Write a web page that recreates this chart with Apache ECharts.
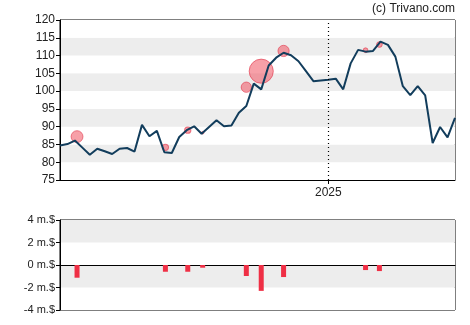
<!DOCTYPE html>
<html>
<head>
<meta charset="utf-8">
<script src="https://cdn.jsdelivr.net/npm/echarts@6/dist/echarts.min.js"></script>
<style>
  html, body { margin: 0; padding: 0; background: #fff; }
  #chart { width: 470px; height: 325px; }
</style>
</head>
<body>
<div id="chart"></div>
<script>
// Weekly closing prices
const weekDates = [
  '2024-04-24','2024-05-01','2024-05-08','2024-05-15','2024-05-22','2024-05-29',
  '2024-06-05','2024-06-12','2024-06-19','2024-06-26','2024-07-03','2024-07-10',
  '2024-07-17','2024-07-24','2024-07-31','2024-08-07','2024-08-14','2024-08-21',
  '2024-08-28','2024-09-04','2024-09-11','2024-09-18','2024-09-25','2024-10-02',
  '2024-10-09','2024-10-16','2024-10-23','2024-10-30','2024-11-06','2024-11-13',
  '2024-11-20','2024-11-27','2024-12-04','2024-12-11','2024-12-18','2024-12-25',
  '2025-01-01','2025-01-08','2025-01-15','2025-01-22','2025-01-29','2025-02-05',
  '2025-02-12','2025-02-19','2025-02-26','2025-03-05','2025-03-12','2025-03-19',
  '2025-03-26','2025-04-02','2025-04-09','2025-04-16','2025-04-23','2025-04-30'
];
const closePrices = [
  84.7, 85.1, 86.1, 84.1, 82.1, 83.8, 83.1, 82.3, 83.8, 84.0, 83.0, 90.5,
  87.3, 88.8, 82.8, 82.6, 87.1, 89.0, 90.1, 88.0, 89.9, 91.8, 90.1, 90.3,
  93.9, 95.8, 102.1, 100.5, 107.2, 109.4, 110.8, 110.1, 108.4, 105.6, 102.8, 103.0,
  103.2, 103.5, 100.5, 107.8, 111.6, 111.1, 111.3, 113.9, 113.0, 109.7, 101.4, 98.9,
  101.4, 98.8, 85.4, 89.9, 87.0, 92.5
];

// Insider transactions: date, price, amount (millions $)
const tradeDates = [
  '2024-05-10','2024-08-01','2024-08-22','2024-09-05','2024-10-16',
  '2024-10-30','2024-11-20','2025-02-05','2025-02-18'
];
const tradePrices = [87.2, 84.2, 89.0, 88.3, 101.1, 105.6, 111.3, 111.5, 113.1];
const tradeAmounts = [-1.13, -0.6, -0.6, -0.24, -0.98, -2.3, -1.07, -0.45, -0.54];

const priceTicks = { min: 75, max: 120, step: 5 };
const amountTicks = { min: -4, max: 4, step: 2 };
const yearMark = '2025-01-01';

const ts = (d) => Date.parse(d + 'T00:00:00Z');
const rangeStart = ts(weekDates[0]);
const rangeEnd = ts(weekDates[weekDates.length - 1]);
const yearTs = ts(yearMark);

const priceLine = weekDates.map((d, i) => [ts(d), closePrices[i]]);
const tradeBubbles = tradeDates.map((d, i) => [ts(d), tradePrices[i], tradeAmounts[i]]);
const tradeBars = tradeDates.map((d, i) => [ts(d), tradeAmounts[i]]);

const labelFont = { fontFamily: 'Liberation Sans, Arial, sans-serif', color: '#222' };

const chart = echarts.init(document.getElementById('chart'), null, { renderer: 'canvas' });
chart.setOption({
  animation: false,
  backgroundColor: '#fff',
  graphic: [{
    type: 'text', right: 15, top: 3,
    style: { text: '(c) Trivano.com', fontSize: 12, fill: '#222',
             fontFamily: 'Liberation Sans, Arial, sans-serif' }
  }],
  grid: [
    { left: 60, right: 15, top: 20, height: 160, show: true, borderColor: '#000', borderWidth: 1, backgroundColor: 'transparent' },
    { left: 60, right: 15, top: 220, height: 90, show: true, borderColor: '#000', borderWidth: 1, backgroundColor: 'transparent' }
  ],
  xAxis: [
    {
      type: 'value', gridIndex: 0,
      min: rangeStart, max: rangeEnd,
      axisLine: { lineStyle: { color: '#000', width: 1 } },
      axisTick: { show: true, length: 4, lineStyle: { color: '#000' }, customValues: [yearTs] },
      axisLabel: {
        ...labelFont, fontSize: 12, margin: 7,
        customValues: [yearTs],
        formatter: (v) => String(new Date(v).getUTCFullYear())
      },
      splitLine: { show: false }
    },
    {
      type: 'value', gridIndex: 1,
      min: rangeStart, max: rangeEnd,
      axisLine: { onZero: true, lineStyle: { color: '#000', width: 1 } },
      axisTick: { show: false },
      axisLabel: { show: false },
      splitLine: { show: false }
    }
  ],
  yAxis: [
    {
      type: 'value', gridIndex: 0,
      min: priceTicks.min, max: priceTicks.max, interval: priceTicks.step,
      axisLine: { show: true, lineStyle: { color: '#000' } },
      axisTick: { show: true, length: 4, lineStyle: { color: '#000' } },
      axisLabel: { ...labelFont, fontSize: 12, margin: 5 },
      splitLine: { show: false },
      splitArea: { show: true, areaStyle: { color: ['#ffffff', '#ededed'] } }
    },
    {
      type: 'value', gridIndex: 1,
      min: amountTicks.min, max: amountTicks.max, interval: amountTicks.step,
      axisLine: { show: true, lineStyle: { color: '#000' } },
      axisTick: { show: true, length: 4, lineStyle: { color: '#000' } },
      axisLabel: { ...labelFont, fontSize: 11, margin: 5, formatter: (v) => v + ' m.$' },
      splitLine: { show: false },
      splitArea: { show: true, areaStyle: { color: ['#ffffff', '#ededed'] } }
    }
  ],
  series: [
    {
      type: 'scatter', xAxisIndex: 0, yAxisIndex: 0, z: 2,
      data: tradeBubbles,
      symbolSize: (d) => Math.abs(d[2]) * 10.5,
      itemStyle: { color: 'rgba(240,85,100,0.7)', borderColor: 'rgba(225,60,80,0.8)', borderWidth: 1 }
    },
    {
      type: 'line', xAxisIndex: 0, yAxisIndex: 0, z: 3,
      data: priceLine,
      showSymbol: false, symbol: 'none',
      lineStyle: { color: '#123d5c', width: 2 },
      markLine: {
        silent: true, symbol: 'none', label: { show: false },
        lineStyle: { color: '#000', type: [1, 3], width: 1.2 },
        data: [{ xAxis: yearTs }]
      }
    },
    {
      type: 'bar', xAxisIndex: 1, yAxisIndex: 1,
      data: tradeBars,
      barWidth: 5,
      itemStyle: { color: '#ef2f45' }
    }
  ]
});
</script>
</body>
</html>
